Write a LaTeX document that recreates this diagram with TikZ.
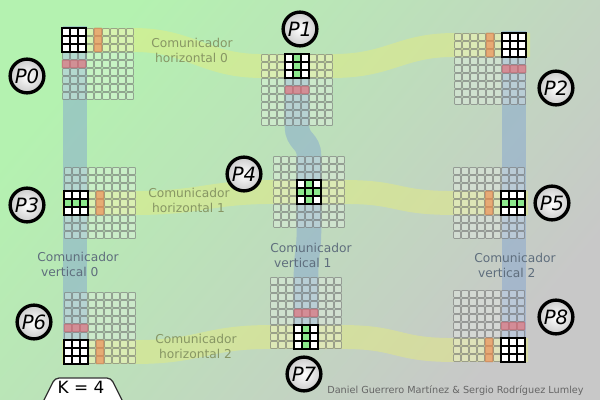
\documentclass[tikz,border=0pt]{standalone}
\usepackage{fontspec}
\setmainfont{DejaVu Sans}
\usetikzlibrary{positioning}

\definecolor{fondoA}{RGB}{180,242,176}
\definecolor{fondoB}{RGB}{200,200,200}
\definecolor{amarillo}{RGB}{232,238,120}
\definecolor{azul}{RGB}{125,160,210}
\definecolor{naranja}{RGB}{235,150,95}
\definecolor{rojo}{RGB}{220,120,130}
\definecolor{verde}{RGB}{140,232,140}
\definecolor{textoh}{RGB}{135,150,100}
\definecolor{textov}{RGB}{95,110,125}

\tikzset{
  celda/.style={draw=black!55,draw opacity=.6,fill=white,fill opacity=.25,line width=.6pt,rounded corners=.6pt},
  activa/.style={draw=black,line width=1.4pt,fill=white},
  activav/.style={activa,fill=verde},
  marcan/.style={draw=naranja!80!black,draw opacity=.4,fill=naranja,fill opacity=.75,line width=.6pt,rounded corners=.6pt},
  marcar/.style={draw=rojo!80!black,draw opacity=.4,fill=rojo,fill opacity=.75,line width=.6pt,rounded corners=.6pt},
  comh/.style={draw=amarillo,draw opacity=.45,line width=17pt},
  comv/.style={draw=azul,draw opacity=.45,line width=17.5pt},
  proc/.style={circle,draw=black,line width=2.4pt,inner color=white,outer color=black!20,
    minimum size=24pt,inner sep=0pt,font=\fontsize{14}{14}\selectfont\itshape},
  etiq/.style={anchor=north west,inner sep=0pt,align=left,font=\fontsize{8.7}{10.4}\selectfont},
}

\newcommand{\malla}[2]{%
  \foreach \i in {0,...,8}
    \foreach \j in {0,...,8}
      \draw[celda] ({#1+8*\i+.5},{#2+8*\j+.5}) rectangle ++(7,7);
}
\newcommand{\marca}[4]{%
  \foreach \i/\j in {#3}
    \draw[#4] ({#1+8*\i},{#2+8*\j}) rectangle ++(8,8);
}

\begin{document}
\begin{tikzpicture}[x=0.025cm,y=-0.025cm]
  \useasboundingbox (0,0) rectangle (600,400);
  \shade[top color=fondoA,bottom color=fondoB,shading angle=50] (0,0) rectangle (600,400);

  % comunicadores
  \draw[comh] (62,40) -- (134,40) .. controls (190,40) and (205,66) .. (261,66) -- (333,66)
    .. controls (390,66) and (400,45) .. (454,45) -- (530,45);
  \draw[comh] (62,203) -- (136,203) .. controls (200,203) and (210,192) .. (273,192) -- (345,192)
    .. controls (400,192) and (395,203) .. (453,203) -- (528,203);
  \draw[comh] (62,352) -- (136,352) .. controls (200,352) and (205,337) .. (270,337) -- (342,337)
    .. controls (400,337) and (395,350) .. (453,350) -- (528,350);
  \draw[comv] (75,26) -- (75,365);
  \draw[comv] (297,78) -- (297,126) .. controls (297,142) and (309,140) .. (309,156) -- (309,228)
    .. controls (309,252) and (306,253) .. (306,277) -- (306,324);
  \draw[comv] (514,31) -- (514,363);

  % mallas
  \malla{62}{28}  \malla{261}{54} \malla{454}{33}
  \malla{64}{167} \malla{273}{156} \malla{453}{167}
  \malla{64}{292} \malla{270}{277} \malla{453}{290}

  \marca{62}{28}{4/0,4/1,4/2}{marcan}
  \marca{454}{33}{4/0,4/1,4/2}{marcan}
  \marca{64}{167}{4/3,4/4,4/5}{marcan}
  \marca{453}{167}{4/3,4/4,4/5}{marcan}
  \marca{64}{292}{4/6,4/7,4/8}{marcan}
  \marca{453}{290}{4/6,4/7,4/8}{marcan}

  \marca{62}{28}{0/4,1/4,2/4}{marcar}
  \marca{261}{54}{3/4,4/4,5/4}{marcar}
  \marca{454}{33}{6/4,7/4,8/4}{marcar}
  \marca{64}{292}{0/4,1/4,2/4}{marcar}
  \marca{270}{277}{3/4,4/4,5/4}{marcar}
  \marca{453}{290}{6/4,7/4,8/4}{marcar}

  % bloques de cada proceso
  \marca{62}{28}{0/0,1/0,2/0,0/1,1/1,2/1,0/2,1/2,2/2}{activa}
  \marca{261}{54}{3/0,5/0,3/1,5/1,3/2,5/2}{activa}
  \marca{261}{54}{4/0,4/1,4/2}{activav}
  \marca{454}{33}{6/0,7/0,8/0,6/1,7/1,8/1,6/2,7/2,8/2}{activa}
  \marca{64}{167}{0/3,1/3,2/3,0/5,1/5,2/5}{activa}
  \marca{64}{167}{0/4,1/4,2/4}{activav}
  \marca{273}{156}{3/3,5/3,3/5,5/5}{activa}
  \marca{273}{156}{4/3,3/4,4/4,5/4,4/5}{activav}
  \marca{453}{167}{6/3,7/3,8/3,6/5,7/5,8/5}{activa}
  \marca{453}{167}{6/4,7/4,8/4}{activav}
  \marca{64}{292}{0/6,1/6,2/6,0/7,1/7,2/7,0/8,1/8,2/8}{activa}
  \marca{270}{277}{3/6,5/6,3/7,5/7,3/8,5/8}{activa}
  \marca{270}{277}{4/6,4/7,4/8}{activav}
  \marca{453}{290}{6/6,7/6,8/6,6/7,7/7,8/7,6/8,7/8,8/8}{activa}

  % textos
  \node[etiq,text=textoh] (lh0) at (151,38) {Comunicador\\~horizontal 0};
  \node[etiq,text=textoh] (lh1) at (148,188) {Comunicador\\~horizontal 1};
  \node[etiq,text=textoh] (lh2) at (155,334) {Comunicador\\~horizontal 2};
  \node[etiq,text=textov] (lv0) at (37,252) {Comunicador\\~vertical 0};
  \node[etiq,text=textov] (lv1) at (270,243) {Comunicador\\~vertical 1};
  \node[etiq,text=textov] (lv2) at (474,253) {Comunicador\\~vertical 2};

  % procesos
  \node[proc] (p0) at (27,76) {P0};
  \node[proc] (p1) at (300,29) {P1};
  \node[proc] (p2) at (556,88) {P2};
  \node[proc] (p3) at (27,205) {P3};
  \node[proc] (p4) at (244,174) {P4};
  \node[proc] (p5) at (552,203) {P5};
  \node[proc] (p6) at (34,322) {P6};
  \node[proc] (p7) at (304,374) {P7};
  \node[proc] (p8) at (556,317) {P8};

  \draw[draw=black!80,line width=.9pt,fill=white,rounded corners=3pt]
    (42,404) -- (55,378) -- (111,378) -- (124,404);
  \node[font=\fontsize{12}{12}\selectfont] (k) at (81,387) {K = 4};
  \node[anchor=base west,inner sep=0pt,text=black!60,font=\fontsize{6.9}{7}\selectfont]
    (autores) at (327,393) {Daniel Guerrero Martínez \& Sergio Rodríguez Lumley};
\end{tikzpicture}
\end{document}
